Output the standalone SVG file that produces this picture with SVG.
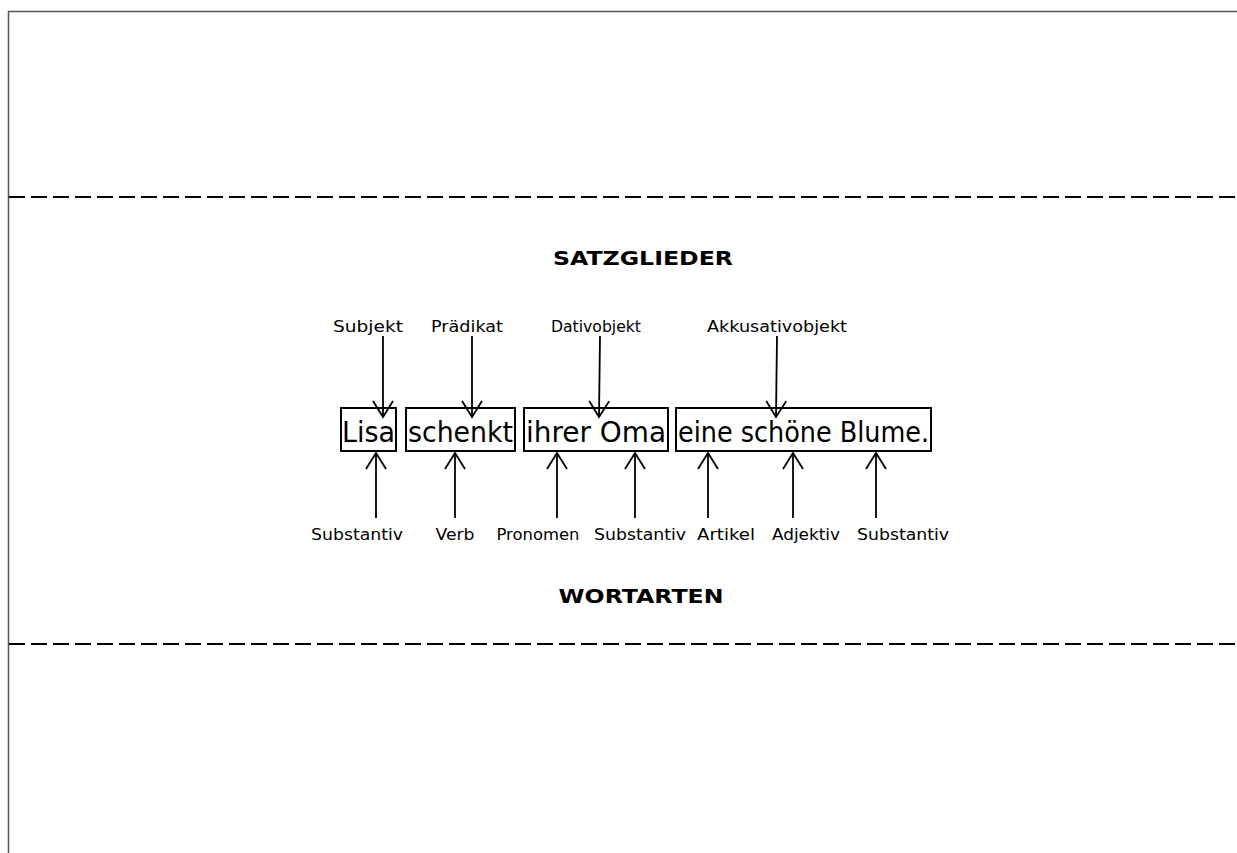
<svg xmlns="http://www.w3.org/2000/svg" width="1237" height="853" viewBox="0 0 1237 853">
<style>
.frame{stroke:#555;stroke-width:1.5;fill:none}
.dash{stroke:#000;stroke-width:2.2;stroke-dasharray:16 6;fill:none}
.box{fill:#fff;stroke:#000;stroke-width:2}
.word{font-family:"DejaVu Sans",sans-serif;font-size:29px;fill:#000}
.lbl{font-family:"DejaVu Sans",sans-serif;font-size:15.5px;fill:#000}
.head{font-family:"DejaVu Sans",sans-serif;font-size:19px;font-weight:bold;fill:#000}
.conn line{stroke:#000;stroke-width:1.8;marker-end:url(#ah)}
</style>
<defs>
<marker id="ah" markerUnits="userSpaceOnUse" viewBox="-18 -12 20 24" markerWidth="20" markerHeight="24" refX="0" refY="0" orient="auto">
<path d="M-16,-10 L0,0 L-16,10" fill="none" stroke="#000" stroke-width="1.8"/>
</marker>
</defs>
<rect width="1237" height="853" fill="#fff"/>
<g id="frame">
<path class="frame" d="M8.5,853 V11.5 H1237"/>
<line class="dash" x1="9" y1="197" x2="1237" y2="197"/>
<line class="dash" x1="9" y1="644" x2="1237" y2="644"/>
</g>
<g id="headings">
<text class="head" x="643" y="265" text-anchor="middle" textLength="180" lengthAdjust="spacingAndGlyphs">SATZGLIEDER</text>
<text class="head" x="641" y="603" text-anchor="middle" textLength="165" lengthAdjust="spacingAndGlyphs">WORTARTEN</text>
</g>
<g id="node-lisa">
<rect class="box" x="341" y="408" width="55" height="43"/>
<text class="word" x="342" y="442" textLength="53" lengthAdjust="spacingAndGlyphs">Lisa</text>
</g>
<g id="node-schenkt">
<rect class="box" x="406" y="408" width="109" height="43"/>
<text class="word" x="408" y="442" textLength="105" lengthAdjust="spacingAndGlyphs">schenkt</text>
</g>
<g id="node-ihrer-oma">
<rect class="box" x="524" y="408" width="144" height="43"/>
<text class="word" x="526" y="442" textLength="140" lengthAdjust="spacingAndGlyphs">ihrer Oma</text>
</g>
<g id="node-blume">
<rect class="box" x="676" y="408" width="255" height="43"/>
<text class="word" x="678" y="442" textLength="251" lengthAdjust="spacingAndGlyphs">eine schöne Blume.</text>
</g>
<g id="labels-top">
<text class="lbl" x="368" y="332" text-anchor="middle" textLength="70" lengthAdjust="spacingAndGlyphs">Subjekt</text>
<text class="lbl" x="467" y="332" text-anchor="middle" textLength="72" lengthAdjust="spacingAndGlyphs">Prädikat</text>
<text class="lbl" x="596" y="332" text-anchor="middle" textLength="90" lengthAdjust="spacingAndGlyphs">Dativobjekt</text>
<text class="lbl" x="777" y="332" text-anchor="middle" textLength="140" lengthAdjust="spacingAndGlyphs">Akkusativobjekt</text>
</g>
<g id="labels-bottom">
<text class="lbl" x="357" y="540" text-anchor="middle" textLength="92" lengthAdjust="spacingAndGlyphs">Substantiv</text>
<text class="lbl" x="455" y="540" text-anchor="middle" textLength="39" lengthAdjust="spacingAndGlyphs">Verb</text>
<text class="lbl" x="538" y="540" text-anchor="middle" textLength="83" lengthAdjust="spacingAndGlyphs">Pronomen</text>
<text class="lbl" x="640" y="540" text-anchor="middle" textLength="92" lengthAdjust="spacingAndGlyphs">Substantiv</text>
<text class="lbl" x="726" y="540" text-anchor="middle" textLength="58" lengthAdjust="spacingAndGlyphs">Artikel</text>
<text class="lbl" x="806" y="540" text-anchor="middle" textLength="68" lengthAdjust="spacingAndGlyphs">Adjektiv</text>
<text class="lbl" x="903" y="540" text-anchor="middle" textLength="92" lengthAdjust="spacingAndGlyphs">Substantiv</text>
</g>
<g id="connectors" class="conn">
<line x1="383" y1="336" x2="383" y2="417"/>
<line x1="472" y1="336" x2="472" y2="417"/>
<line x1="600" y1="336" x2="599" y2="417"/>
<line x1="777" y1="336" x2="776" y2="417"/>
<line x1="376" y1="518" x2="376" y2="453"/>
<line x1="455" y1="518" x2="455" y2="453"/>
<line x1="557" y1="518" x2="557" y2="453"/>
<line x1="635" y1="518" x2="635" y2="453"/>
<line x1="708" y1="518" x2="708" y2="453"/>
<line x1="793" y1="518" x2="793" y2="453"/>
<line x1="876" y1="518" x2="876" y2="453"/>
</g>
</svg>
